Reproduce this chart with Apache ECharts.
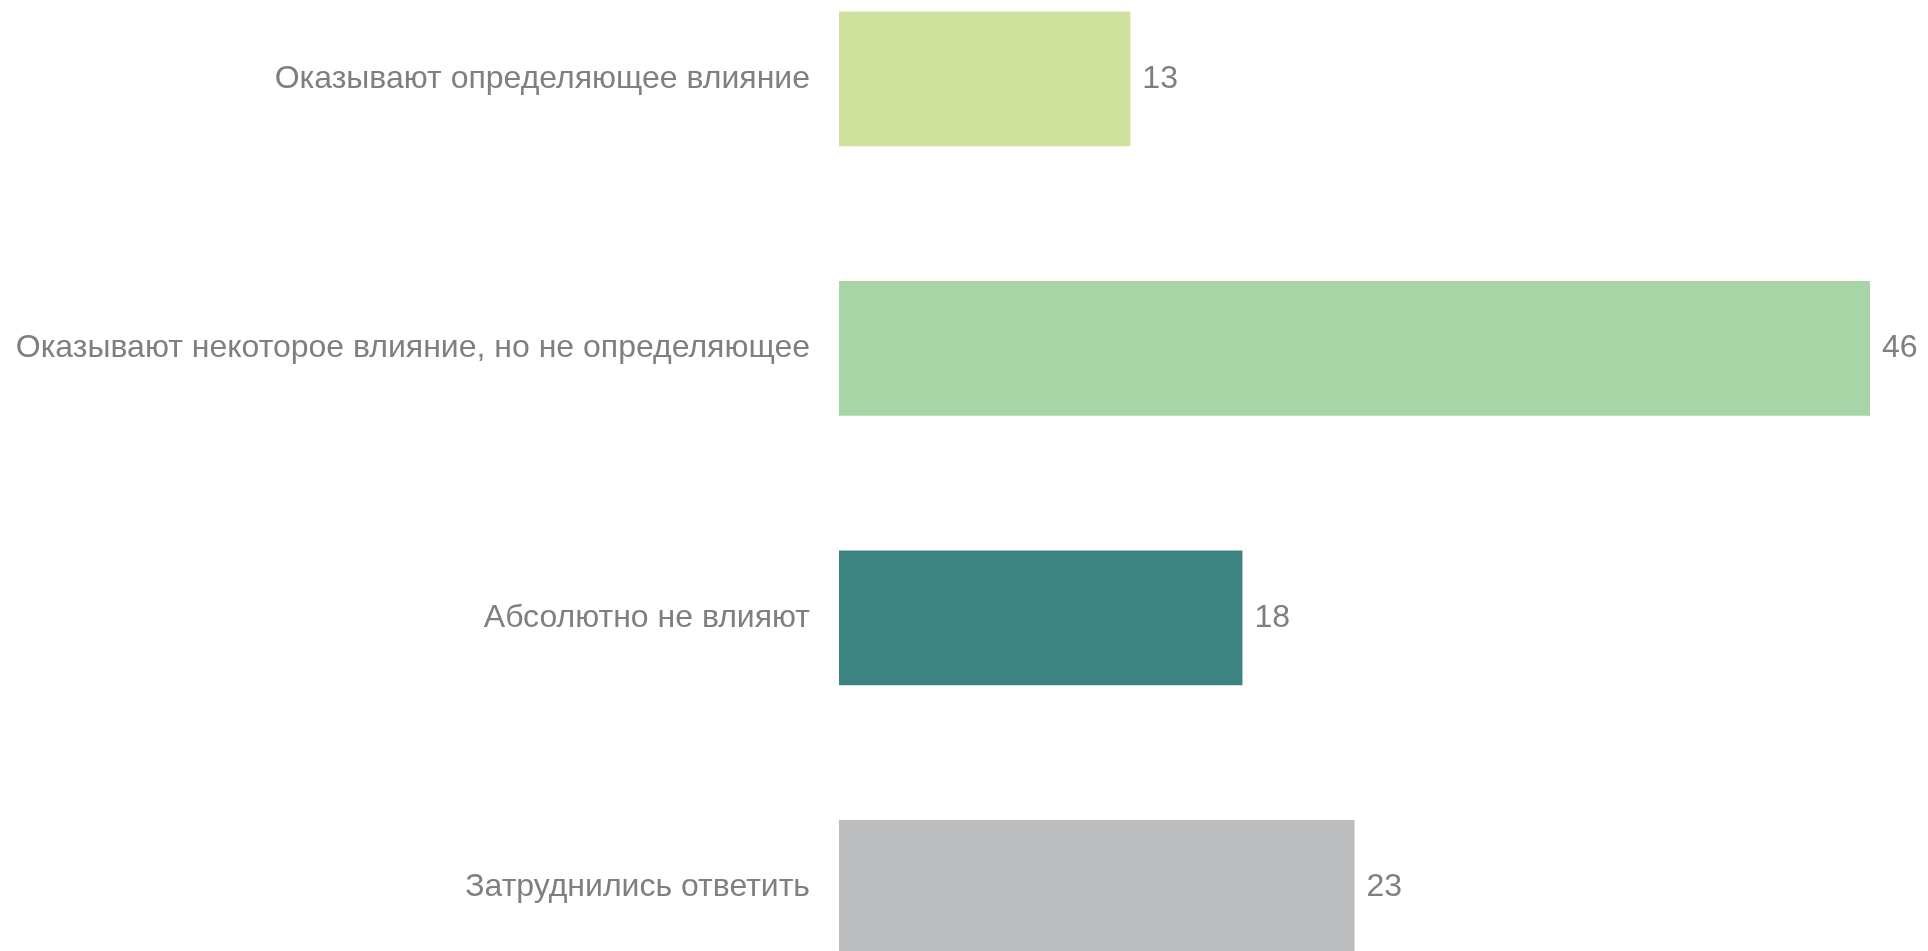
<!DOCTYPE html>
<html>
<head>
<meta charset="utf-8">
<script src="https://cdn.jsdelivr.net/npm/echarts@6/dist/echarts.min.js"></script>
<style>
  html, body { margin: 0; padding: 0; background: #fff; overflow: hidden; }
  /* the reference is cropped: the outer bands run past the window edges */
  #chart { position: absolute; left: 0; top: -56px; width: 1928px; height: 1078px; }
</style>
</head>
<body>
<div id="chart"></div>
<script>
// категории сверху вниз
var categories = [
  'Оказывают определяющее влияние',
  'Оказывают некоторое влияние, но не определяющее',
  'Абсолютно не влияют',
  'Затруднились ответить'
];
var values = [13, 46, 18, 23];
var barColors = ['#cfe29d', '#a8d5a6', '#3c8482', '#bcbdbf'];

var chart = echarts.init(document.getElementById('chart'));

var option = {
  backgroundColor: '#ffffff',
  animation: false,
  grid: {
    left: 839,
    right: 58,
    top: 0,
    bottom: 0,
    containLabel: false
  },
  xAxis: {
    type: 'value',
    min: 0,
    max: 46,
    show: false
  },
  yAxis: {
    type: 'category',
    inverse: true,
    data: categories,
    axisLine: { show: false },
    axisTick: { show: false },
    splitLine: { show: false },
    axisLabel: {
      margin: 29,
      color: '#7f7f7f',
      fontSize: 32,
      fontFamily: 'Liberation Sans, Arial, sans-serif'
    }
  },
  series: [{
    type: 'bar',
    barCategoryGap: '50%',
    data: values.map(function (v, i) {
      return { value: v, itemStyle: { color: barColors[i] } };
    }),
    label: {
      show: true,
      position: 'right',
      distance: 12,
      color: '#7f7f7f',
      fontSize: 32,
      fontFamily: 'Liberation Sans, Arial, sans-serif'
    }
  }]
};

chart.setOption(option);
</script>
</body>
</html>
